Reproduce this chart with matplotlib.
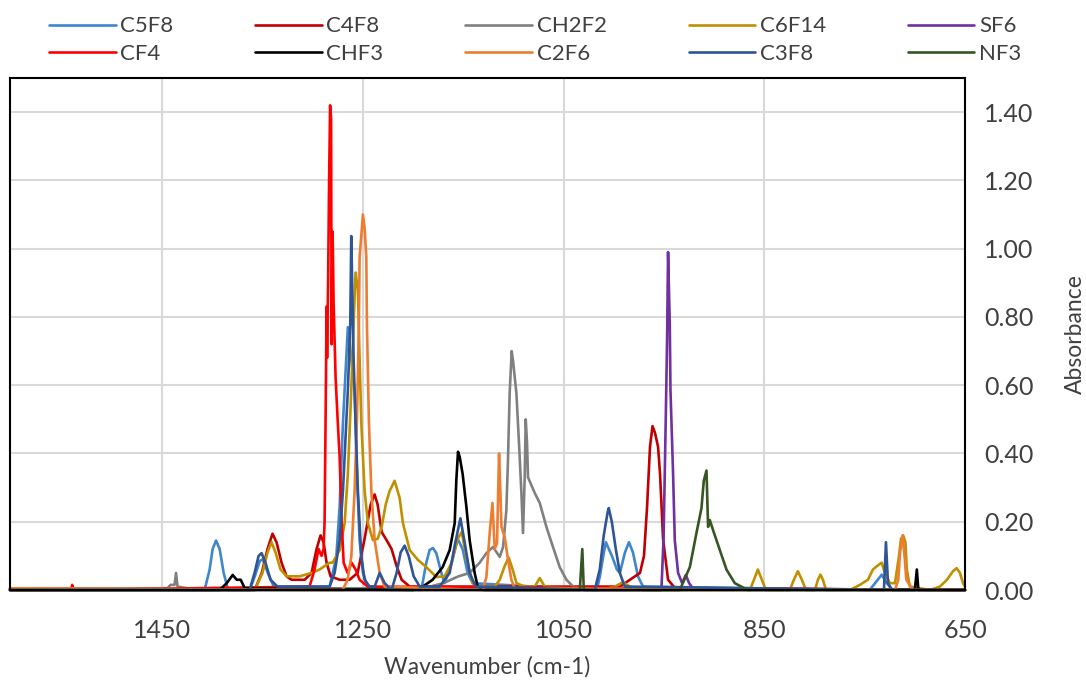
import matplotlib
matplotlib.use("Agg")
import matplotlib.pyplot as plt
from matplotlib.ticker import FormatStrFormatter

plt.rcParams['font.family'] = ['Lato', 'DejaVu Sans']

# ---- data: (wavenumber cm-1, absorbance) ----
C5F8 = [(1602,0.003),(1423,0.003),(1408,0.0),(1403,0.06),(1400,0.12),(1396.6,0.145),(1393,0.12),(1389,0.05),(1385,0.005),
        (1363,0.0),(1358,0.04),(1353,0.085),(1350,0.09),(1345,0.05),(1339,0.01),(1300,0.01),(1283.4,0.01),(1276.7,0.097),
        (1273.4,0.245),(1270.1,0.49),(1265.2,0.77),(1258.5,0.585),(1256.2,0.34),(1253.5,0.146),(1250.2,0.05),(1245.5,0.01),
        (1192,0.0),(1187,0.08),(1183.7,0.117),(1180.4,0.123),(1177,0.108),(1172,0.05),(1168.7,0.02),(1161.7,0.08),(1155.7,0.15),
        (1150.8,0.12),(1145.8,0.05),(1140.8,0.02),(1017,0.0),(1014,0.04),(1010,0.11),(1008,0.14),(1002,0.10),(997,0.06),
        (994,0.05),(989,0.11),(985,0.14),(981,0.11),(976,0.04),(971,0.01),(745,0.0),(737,0.03),(733,0.045),(728,0.02),
        (722,0.0),(650,0.0)]
C4F8 = [(1602,0.003),(1358,0.0),(1351,0.05),(1345.3,0.12),(1340.3,0.165),(1336.3,0.14),(1331.3,0.08),(1326.3,0.04),
        (1321.3,0.03),(1308.3,0.03),(1301.4,0.05),(1296.4,0.12),(1292.4,0.16),(1289.4,0.14),(1286.4,0.08),(1282.4,0.04),
        (1273.4,0.03),(1263.5,0.03),(1255.5,0.05),(1248.5,0.15),(1242.5,0.25),(1238.5,0.28),(1235.5,0.25),(1231.5,0.17),
        (1226.6,0.146),(1221.6,0.12),(1216.6,0.07),(1211.6,0.03),(1203.6,0.01),(994,0.01),(984,0.03),(974,0.05),(970,0.10),
        (967,0.24),(964,0.42),(961.5,0.48),(959,0.46),(956,0.42),(954,0.34),(951,0.15),(946,0.03),(939,0.005),(650,0.0)]
CH2F2 = [(1602,0.005),(1445,0.005),(1442,0.015),(1438,0.015),(1436.5,0.05),(1435,0.01),(1425,0.005),(1190,0.005),
         (1170,0.02),(1155,0.04),(1143.8,0.05),(1133.8,0.08),(1127.1,0.108),(1120.5,0.126),(1113.8,0.097),(1110.5,0.126),
         (1107.2,0.234),(1105.6,0.38),(1103.9,0.577),(1101.9,0.70),(1100.5,0.67),(1097.2,0.577),(1094.6,0.43),(1092.2,0.284),
         (1090.6,0.167),(1088.9,0.33),(1087.9,0.50),(1086.6,0.43),(1085.6,0.33),(1078.9,0.284),(1073.9,0.255),(1067.3,0.185),
         (1060.7,0.126),(1054.0,0.067),(1047.3,0.03),(1040.7,0.01),(1030,0.003),(650,0.0)]
C6F14 = [(1602,0.0),(1358,0.0),(1350.3,0.05),(1345.3,0.11),(1341.3,0.14),(1337.3,0.11),(1332.3,0.06),(1326.3,0.04),
         (1313.3,0.04),(1301.4,0.05),(1293.4,0.06),(1283.4,0.08),(1280.4,0.08),(1273.4,0.117),(1268.4,0.196),(1265.2,0.34),
         (1261.8,0.585),(1259.5,0.78),(1257.5,0.93),(1255.2,0.88),(1253.5,0.68),(1251.8,0.49),(1248.5,0.29),(1245.2,0.196),
         (1240.2,0.146),(1235.5,0.15),(1231.5,0.185),(1227.5,0.25),(1223.6,0.29),(1218.6,0.32),(1213.6,0.27),(1210.3,0.196),
         (1203.6,0.117),(1195.3,0.088),(1187,0.067),(1177,0.038),(1168.7,0.04),(1161.7,0.08),(1155.7,0.15),(1151.7,0.17),
         (1146.7,0.09),(1140.8,0.02),(1133.8,0.01),(1118.8,0.01),(1113.8,0.03),(1108.9,0.07),(1104.9,0.095),(1100.9,0.06),
         (1097.1,0.02),(1088.9,0.01),(1078.9,0.01),(1073.9,0.035),(1069,0.01),(1044,0.005),(1014,0.0),(999,0.01),(991,0.023),
         (984,0.01),(970,0.0),(864.4,0.0),(860.4,0.03),(856.5,0.06),(852.5,0.03),(848.5,0.0),(824.6,0.0),(820.6,0.03),
         (816.6,0.055),(812.6,0.03),(808.6,0.0),(799.6,0.0),(796.6,0.03),(794.1,0.045),(791.6,0.03),(788.6,0.0),(764.7,0.0),
         (754.8,0.015),(746.8,0.03),(741.8,0.06),(737.8,0.07),(733.1,0.08),(729.8,0.05),(724.8,0.02),(719.8,0.02),(715.8,0.10),
         (713.8,0.15),(711.6,0.16),(709.4,0.14),(708,0.06),(705,0.01),(685,0.0),(675,0.01),(668,0.03),(662,0.055),
         (658.3,0.064),(655,0.05),(652,0.02),(650,0.01)]
SF6 = [(1602,0.0),(953,0.0),(952.5,0.01),(950.5,0.15),(949.3,0.34),(948.2,0.52),(947,0.73),(946,0.99),(944.3,0.78),
       (943.6,0.585),(941,0.34),(939.3,0.146),(936,0.05),(932,0.02),(928.3,0.044),(925,0.02),(921.3,0.005),(650,0.0)]
CF4 = [(1602,0.0),(1541,0.0),(1540,0.015),(1539,0.0),(1303.4,0.01),(1298.4,0.06),(1294.4,0.12),(1291.4,0.10),
       (1289.4,0.12),(1288.4,0.2),(1287.4,0.5),(1286.4,0.83),(1285.9,0.68),(1284.9,0.9),(1283.9,1.2),(1282.9,1.42),
       (1281.9,1.38),(1281.4,0.72),(1280.4,1.05),(1279.4,0.84),(1277.4,0.62),(1275.4,0.5),(1273.4,0.39),(1271.4,0.2),
       (1269.4,0.08),(1265.5,0.05),(1261.5,0.08),(1257.5,0.06),(1253.5,0.03),(1245.5,0.01),(650,0.0)]
CHF3 = [(1602,0.0),(1393,0.0),(1386,0.02),(1380,0.044),(1376,0.03),(1372,0.03),(1368,0.005),(1200,0.0),(1190.6,0.01),
        (1180.7,0.03),(1170.7,0.067),(1163.7,0.117),(1158.7,0.196),(1157.1,0.32),(1155.4,0.405),(1153.7,0.39),
        (1150.8,0.34),(1147.1,0.245),(1143.8,0.146),(1138.8,0.05),(1135.8,0.01),(1130,0.0),(700,0.0),(698,0.06),
        (696.5,0.0),(650,0.0)]
C2F6 = [(1602,0.005),(1270.4,0.0),(1265.5,0.03),(1261.8,0.097),(1258.5,0.29),(1256.2,0.49),(1254.2,0.78),(1253.5,0.975),
        (1251.5,1.05),(1250.2,1.10),(1248.5,1.06),(1246.8,0.975),(1246.2,0.78),(1244.2,0.49),(1241.8,0.29),(1238.5,0.146),
        (1233.5,0.05),(1228.5,0.01),(1130.8,0.0),(1127.1,0.038),(1123.8,0.167),(1121.1,0.255),(1118.8,0.12),(1116.5,0.137),
        (1114.5,0.40),(1113.3,0.30),(1112.1,0.185),(1108.9,0.155),(1105.5,0.088),(1102.2,0.03),(1098.9,0.005),(719.8,0.0),
        (716.5,0.03),(714.8,0.108),(712.2,0.16),(710.2,0.097),(708.5,0.03),(702,0.0),(650,0.0)]
C3F8 = [(1602,0.0),(1363.2,0.0),(1358.2,0.05),(1354.2,0.10),(1351.2,0.108),(1347.3,0.08),(1342.3,0.03),(1335.3,0.01),
        (1283.4,0.01),(1278.4,0.05),(1273.4,0.146),(1270.1,0.29),(1266.8,0.49),(1265.2,0.585),(1262.8,0.78),(1261.8,1.037),
        (1260.8,0.88),(1259.5,0.68),(1257.5,0.49),(1255.2,0.29),(1251.8,0.097),(1248.5,0.03),(1243.5,0.01),(1238.5,0.01),
        (1233.5,0.05),(1228.5,0.02),(1221.6,0.0),(1216.6,0.05),(1212.6,0.11),(1208.6,0.13),(1204.6,0.10),(1199.6,0.04),
        (1193.6,0.01),(1173.7,0.01),(1163.7,0.05),(1158.7,0.13),(1153.0,0.21),(1148.8,0.14),(1143.8,0.05),(1137.8,0.01),
        (1019.1,0.0),(1014.1,0.06),(1010.1,0.16),(1006.1,0.23),(1005.1,0.24),(1002.1,0.20),(998.1,0.12),(994.1,0.05),
        (989.2,0.01),(730.8,0.0),(728.8,0.14),(726.8,0.02),(722.8,0.0),(650,0.0)]
NF3 = [(1602,0.0),(1034,0.0),(1031.5,0.12),(1030,0.0),(934.3,0.0),(924.3,0.067),(917.7,0.167),(912.7,0.24),(910.4,0.32),
       (907.7,0.35),(906.1,0.185),(904.4,0.205),(901.1,0.175),(894.4,0.117),(887.8,0.06),(879.5,0.02),(866.5,0.0),(650,0.0)]

series_names = ["C5F8", "C4F8", "CH2F2", "C6F14", "SF6", "CF4", "CHF3", "C2F6", "C3F8", "NF3"]
series_data = [C5F8, C4F8, CH2F2, C6F14, SF6, CF4, CHF3, C2F6, C3F8, NF3]
series_colors = ["#3F86CB", "#C00000", "#808080", "#BF9000", "#7030A0",
                 "#FF0000", "#000000", "#ED7D31", "#2F5597", "#375623"]
x_ticks = [1450, 1250, 1050, 850, 650]
y_ticks = [0.0, 0.2, 0.4, 0.6, 0.8, 1.0, 1.2, 1.4]

W, H = 1086, 682
fig = plt.figure(figsize=(W / 100, H / 100), dpi=100)
ax = fig.add_axes([10 / W, (H - 590) / H, (965 - 10) / W, (590 - 78) / H])

handles = {}
for name, data, col in zip(series_names, series_data, series_colors):
    xs = [p[0] for p in data]
    ys = [p[1] for p in data]
    ln, = ax.plot(xs, ys, color=col, lw=1.9, clip_on=False,
                  solid_joinstyle='round', solid_capstyle='round')
    handles[name] = ln

ax.set_xlim(1602, 650)
ax.set_ylim(0, 1.5)
ax.set_xticks(x_ticks)
ax.set_yticks(y_ticks)
ax.yaxis.set_major_formatter(FormatStrFormatter('%.2f'))
ax.yaxis.tick_right()
ax.yaxis.set_label_position('right')
ax.tick_params(axis='both', length=0, labelsize=18, colors='#404040')
ax.tick_params(axis='x', pad=21)
ax.tick_params(axis='y', pad=14)
ax.grid(True, color='#D9D9D9', lw=1.5)
ax.set_axisbelow(True)
for s in ax.spines.values():
    s.set_color('black')
    s.set_linewidth(1.5)

ax.set_xlabel("Wavenumber (cm-1)", fontsize=16.5, color='#404040', labelpad=10)
ax.set_ylabel("Absorbance", fontsize=16.5, color='#404040', labelpad=22)

order = ["C5F8", "CF4", "C4F8", "CHF3", "CH2F2", "C2F6", "C6F14", "C3F8", "SF6", "NF3"]
fig.legend([handles[n] for n in order], order, ncol=5, loc='lower left',
           bbox_to_anchor=(40 / W, 1 - 73 / H, 990 / W, 64 / H), mode='expand',
           frameon=False, fontsize=16, handlelength=3.0, handletextpad=0.2,
           labelspacing=0.35, borderaxespad=0, labelcolor='#404040')

fig.savefig("out.png", dpi=100)
